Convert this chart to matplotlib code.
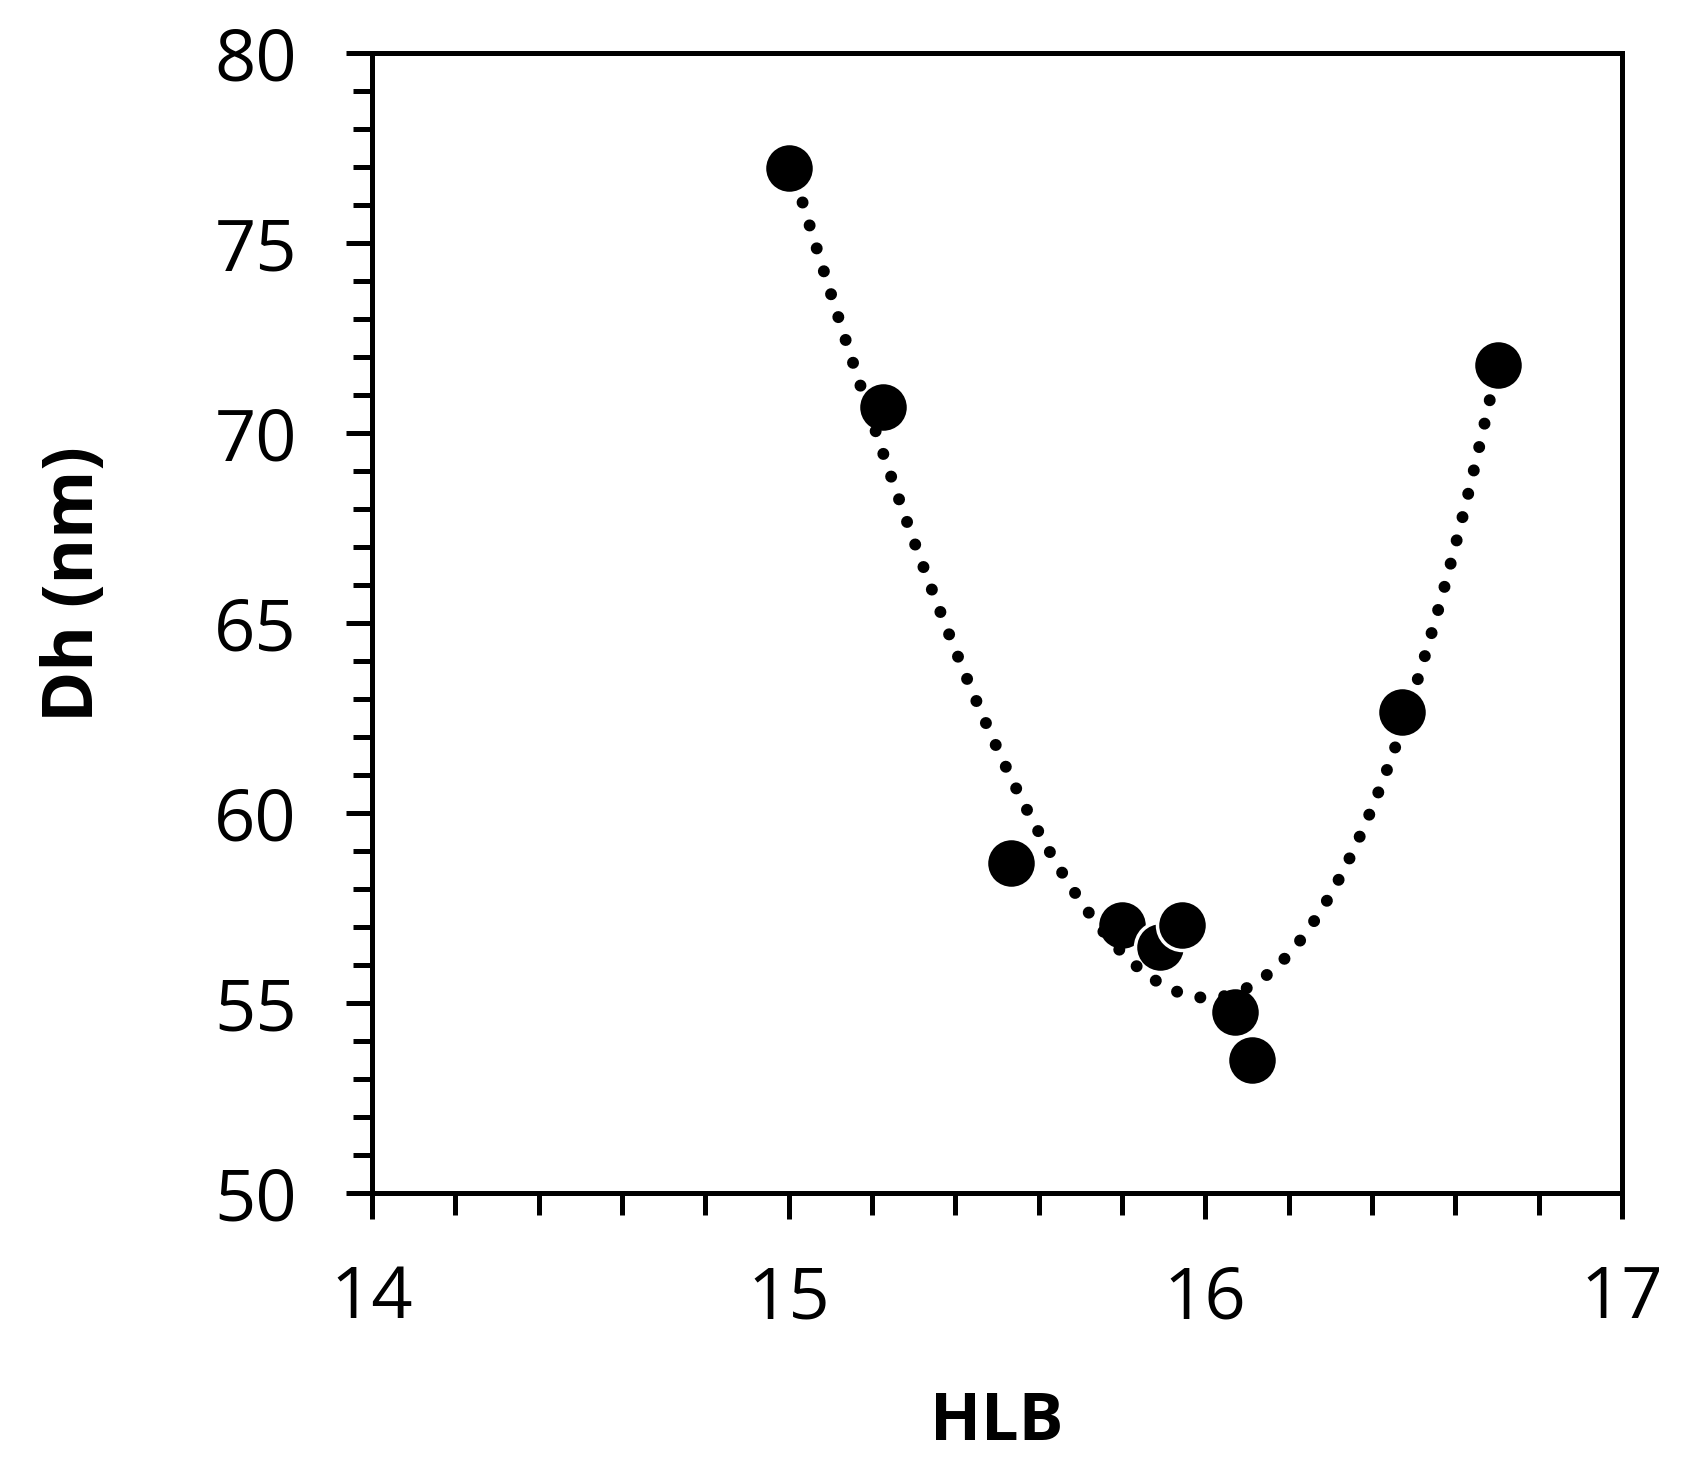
import numpy as np
import matplotlib
matplotlib.use("Agg")
import matplotlib.pyplot as plt
from matplotlib.ticker import MultipleLocator

# HLB vs hydrodynamic diameter
hlb = [15.0, 15.226, 15.533, 15.80, 15.891, 15.944, 16.071, 16.112, 16.472, 16.702]
dh = [76.97, 70.68, 58.68, 57.05, 56.47, 57.05, 54.76, 53.50, 62.66, 71.79]
fit_order = 3

plt.rcParams['font.family'] = ['Open Sans', 'DejaVu Sans']

fig = plt.figure(figsize=(16.89, 14.83), dpi=100)
ax = fig.add_axes([0.2202, 0.1956, 0.9603 - 0.2202, 0.9643 - 0.1956])

ax.plot(hlb, dh, 'o', color='black', markersize=36, markeredgecolor='white',
        markeredgewidth=2.5, zorder=3)

# excel-style polynomial trendline
coef = np.polyfit(hlb, dh, fit_order)
xs = np.linspace(min(hlb), max(hlb), 400)
ax.plot(xs, np.polyval(coef, xs), color='black', lw=8.6,
        linestyle=(0, (0.01, 2.0)), dash_capstyle='round', zorder=4)

ax.set_xlim(14, 17)
ax.set_ylim(50, 80)
ax.xaxis.set_major_locator(MultipleLocator(1))
ax.xaxis.set_minor_locator(MultipleLocator(0.2))
ax.yaxis.set_major_locator(MultipleLocator(5))
ax.yaxis.set_minor_locator(MultipleLocator(1))

for s in ax.spines.values():
    s.set_linewidth(3.6)

ax.tick_params(axis='x', which='major', direction='out', length=19, width=3.6,
               labelsize=52, pad=32)
ax.tick_params(axis='x', which='minor', direction='out', length=16, width=3.6)
ax.tick_params(axis='y', which='major', direction='out', length=19, width=3.6,
               labelsize=52, pad=35)
ax.tick_params(axis='y', which='minor', direction='out', length=14, width=3.6)

ax.set_xlabel('HLB', fontsize=48, fontweight='bold')
ax.set_ylabel('Dh (nm)', fontsize=50, fontweight='bold')
ax.xaxis.label.set_va('center')
ax.yaxis.label.set_va('center')
ax.xaxis.set_label_coords(0.5, -0.201)
ax.yaxis.set_label_coords(-0.2376, 0.534)

fig.savefig('out.png', dpi=100)
